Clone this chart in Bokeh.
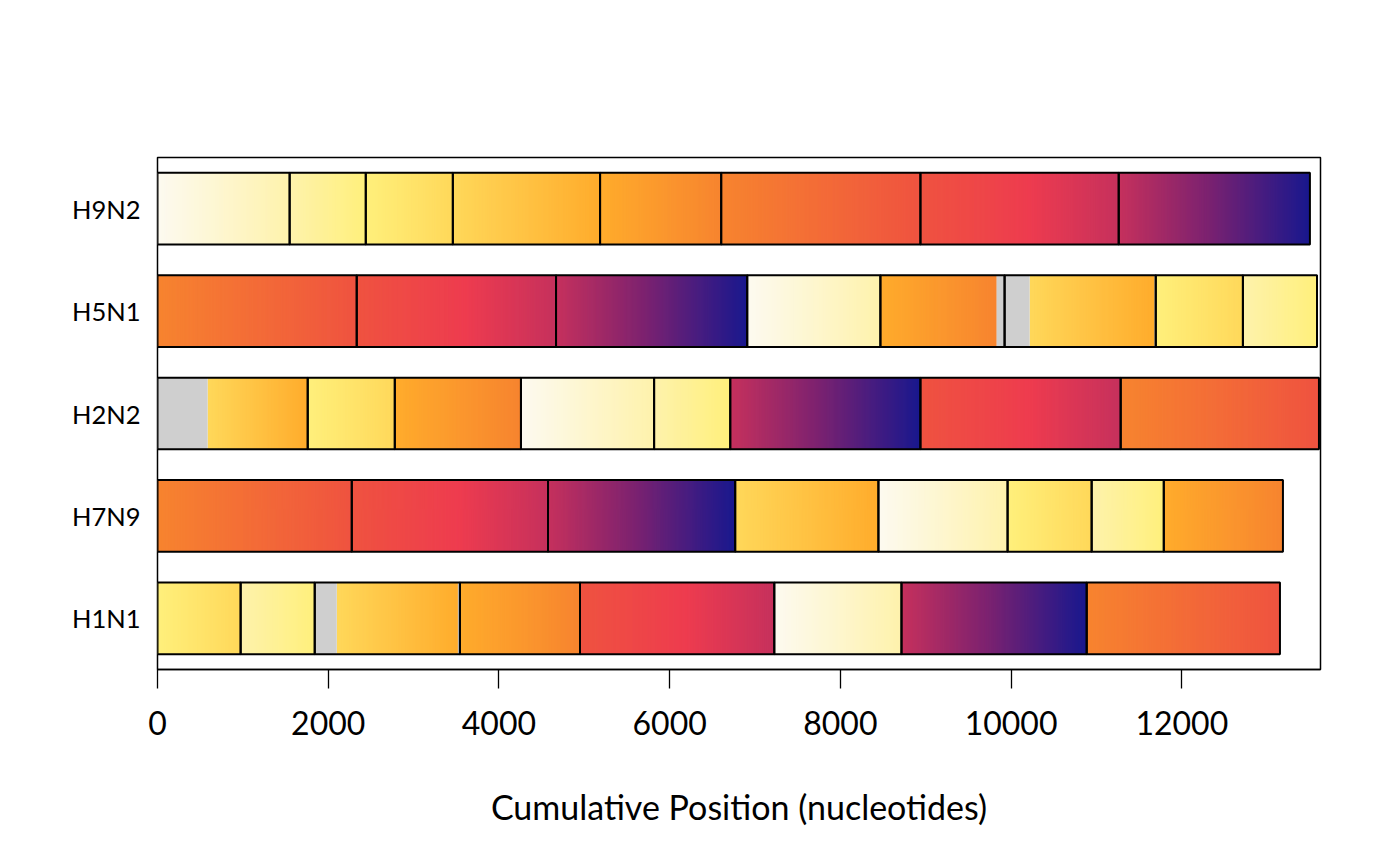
import numpy as np
from bokeh.plotting import figure
from bokeh.models import FactorRange, Range1d, FixedTicker, ColumnDataSource
from bokeh.embed import file_html
from bokeh.resources import INLINE

# ---------------- data ----------------
genomes = ["H1N1", "H7N9", "H2N2", "H5N1", "H9N2"]  # bottom -> top

# reference genome (H9N2) segment order and lengths (defines colour positions)
ref_segments = ["NP", "NS", "M", "HA", "NA", "PB2", "PB1", "PA"]
ref_lengths = [1548, 892, 1020, 1725, 1419, 2334, 2323, 2240]

h9n2_segments = ["NP", "NS", "M", "HA", "NA", "PB2", "PB1", "PA"]
h9n2_lengths = [1548, 892, 1020, 1725, 1419, 2334, 2323, 2240]
h9n2_gap_head = [0, 0, 0, 0, 0, 0, 0, 0]
h9n2_gap_tail = [0, 0, 0, 0, 0, 0, 0, 0]

h5n1_segments = ["PB2", "PB1", "PA", "NP", "NA", "HA", "M", "NS"]
h5n1_lengths = [2334, 2335, 2240, 1560, 1455, 1771, 1021, 868]
h5n1_gap_head = [0, 0, 0, 0, 0, 293, 0, 0]
h5n1_gap_tail = [0, 0, 0, 0, 94, 15, 0, 0]

h2n2_segments = ["HA", "M", "NA", "NP", "NS", "PA", "PB1", "PB2"]
h2n2_lengths = [1760, 1020, 1478, 1560, 892, 2228, 2346, 2323]
h2n2_gap_head = [587, 0, 0, 0, 0, 0, 0, 0]
h2n2_gap_tail = [0, 0, 0, 0, 0, 0, 0, 0]

h7n9_segments = ["PB2", "PB1", "PA", "HA", "NP", "M", "NS", "NA"]
h7n9_lengths = [2276, 2299, 2193, 1678, 1513, 985, 845, 1396]
h7n9_gap_head = [0, 0, 0, 0, 0, 0, 0, 0]
h7n9_gap_tail = [0, 0, 0, 0, 0, 0, 0, 0]

h1n1_segments = ["M", "NS", "HA", "NA", "PB1", "NP", "PA", "PB2"]
h1n1_lengths = [974, 868, 1701, 1407, 2276, 1490, 2170, 2264]
h1n1_gap_head = [0, 0, 258, 0, 0, 0, 0, 0]
h1n1_gap_tail = [0, 0, 24, 0, 0, 0, 0, 0]

x_ticks = [0, 2000, 4000, 6000, 8000, 10000, 12000]

# ---------------- style ----------------
GRAY = "#cfcfcf"
cmap_pos = [0, 1548, 2440, 3460, 5185, 6604, 8938, 10200, 11261, 12300, 13501]
cmap_hex = ["#fdfaf0", "#fef2ac", "#fff07c", "#ffd85a", "#ffac2c", "#f7842f",
            "#ef5340", "#ee3c4f", "#c6315d", "#7c2270", "#18188e"]
cmap_rgb = np.array([[int(h[i:i + 2], 16) for i in (1, 3, 5)] for h in cmap_hex], float)


def cmap(pos):
    pos = np.asarray(pos, float)
    r = np.interp(pos, cmap_pos, cmap_rgb[:, 0])
    g = np.interp(pos, cmap_pos, cmap_rgb[:, 1])
    b = np.interp(pos, cmap_pos, cmap_rgb[:, 2])
    return ["#%02x%02x%02x" % (int(round(a)), int(round(c)), int(round(d)))
            for a, c, d in zip(r, g, b)]


ref_start = dict(zip(ref_segments, np.concatenate([[0], np.cumsum(ref_lengths)[:-1]])))
ref_len = dict(zip(ref_segments, ref_lengths))

rows = {
    "H1N1": (h1n1_segments, h1n1_lengths, h1n1_gap_head, h1n1_gap_tail),
    "H7N9": (h7n9_segments, h7n9_lengths, h7n9_gap_head, h7n9_gap_tail),
    "H2N2": (h2n2_segments, h2n2_lengths, h2n2_gap_head, h2n2_gap_tail),
    "H5N1": (h5n1_segments, h5n1_lengths, h5n1_gap_head, h5n1_gap_tail),
    "H9N2": (h9n2_segments, h9n2_lengths, h9n2_gap_head, h9n2_gap_tail),
}

BIN = 12
s_y, s_l, s_r, s_c = [], [], [], []
o_y, o_l, o_r = [], [], []
for g in genomes:
    segs, lens, gh, gt = rows[g]
    x0 = 0.0
    for seg, L, h, t in zip(segs, lens, gh, gt):
        x1 = x0 + L
        o_y.append(g); o_l.append(x0); o_r.append(x1)
        a0, a1 = x0 + h, x1 - t
        n = max(1, int((a1 - a0) / BIN))
        edges = np.linspace(a0, a1, n + 1)
        mids = (np.arange(n) + 0.5) / n
        cols = cmap(ref_start[seg] + mids * ref_len[seg])
        s_y += [g] * n
        s_l += list(edges[:-1])
        s_r += list(np.minimum(edges[1:] + BIN, a1))  # overlap to hide seams
        s_c += cols
        if h > 0:
            s_y.append(g); s_l.append(x0); s_r.append(a0); s_c.append(GRAY)
        if t > 0:
            s_y.append(g); s_l.append(a1); s_r.append(x1); s_c.append(GRAY)
        x0 = x1

stripes = ColumnDataSource(dict(y=s_y, left=s_l, right=s_r, color=s_c))
outlines = ColumnDataSource(dict(y=o_y, left=o_l, right=o_r))

FONT = "Lato"
p = figure(width=1400, height=866, output_backend="svg", toolbar_location=None,
           x_range=Range1d(0, 13625), y_range=FactorRange(factors=genomes, range_padding=0),
           min_border_left=157, min_border_right=80, min_border_top=157, min_border_bottom=197)

p.hbar(y="y", left="left", right="right", height=0.7, fill_color="color",
       line_color=None, source=stripes)
p.hbar(y="y", left="left", right="right", height=0.7, fill_color=None,
       line_color="black", line_width=2, source=outlines)

p.grid.visible = False
p.background_fill_color = "white"
p.border_fill_color = "white"
p.outline_line_color = "black"
p.outline_line_width = 1.5

xa = p.xaxis[0]
xa.ticker = FixedTicker(ticks=x_ticks)
xa.axis_label = "Cumulative Position (nucleotides)"
xa.axis_label_text_font = FONT
xa.axis_label_text_font_style = "normal"
xa.axis_label_text_font_size = "34px"
xa.axis_label_standoff = 48
xa.major_label_text_font = FONT
xa.major_label_text_font_size = "32px"
xa.major_label_standoff = 22
xa.major_tick_out = 19
xa.major_tick_in = 0
xa.minor_tick_out = 0
xa.minor_tick_in = 0
xa.major_tick_line_color = "black"
xa.major_tick_line_width = 1.3
xa.axis_line_color = "black"
xa.axis_line_width = 1.3
xa.major_label_text_color = "black"
xa.axis_label_text_color = "black"

ya = p.yaxis[0]
ya.major_tick_out = 0
ya.major_tick_in = 0
ya.axis_line_color = None
ya.major_label_text_font = FONT
ya.major_label_text_font_size = "25.5px"
ya.major_label_standoff = 17
ya.major_label_text_color = "black"

open("out.html", "w").write(file_html(p, INLINE))
